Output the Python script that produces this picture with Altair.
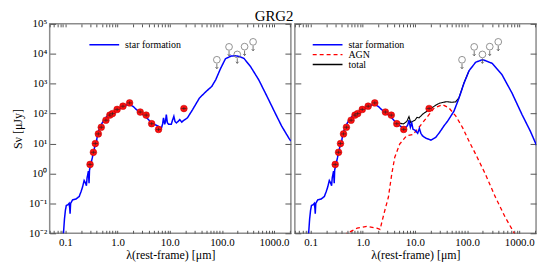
import altair as alt
import pandas as pd

# ---------------- data ----------------
# photometry (rest-frame wavelength [um], flux [uJy])
pt_lam = [0.297, 0.344, 0.375, 0.428, 0.487, 0.598, 0.711, 0.80, 0.98, 1.27, 1.70, 2.72, 3.53, 4.50, 6.1, 18.7]
pt_S = [2.0, 5.1, 10, 21, 35, 60, 89, 100, 138, 177, 228, 113, 89, 46, 29.6, 148]

# upper limits
ul_lam = [80, 137, 197, 272, 396]
ul_S = [6300, 17000, 9500, 17300, 25000]

# star formation model, left panel
sf1_lam = [0.0917, 0.096, 0.100, 0.104, 0.112, 0.118, 0.121, 0.123, 0.126, 0.137, 0.16, 0.184, 0.20, 0.213,
           0.229, 0.24, 0.253, 0.26, 0.276, 0.284, 0.29, 0.306, 0.33, 0.343, 0.36, 0.38, 0.39, 0.40, 0.42,
           0.47, 0.54, 0.63, 0.79, 0.98, 1.22, 1.62, 1.97, 2.54, 3.37, 4.5, 6.0, 6.9, 7.3, 7.6, 8.0, 8.3,
           8.6, 9.0, 9.5, 10.7, 11.3, 12.0, 12.6, 13.4, 14.5, 15.5, 17, 18, 21.8, 27.6, 37, 49.8, 64, 76,
           95, 117, 150, 180, 210, 265, 355, 508, 730, 1050, 1400, 1950, 2100]
sf1_S = [0.0095, 0.03, 0.058, 0.085, 0.09, 0.10, 0.07, 0.045, 0.10, 0.13, 0.14, 0.17, 0.25, 0.35,
         0.58, 0.5, 0.39, 0.7, 1.2, 0.47, 1.3, 2.0, 3.5, 5.0, 7, 10.7, 8, 14, 23,
         38, 59, 81, 93, 126, 165, 209, 176, 116, 82, 49, 38, 32, 45, 72, 44, 55,
         93, 50, 44, 44, 60, 81, 55, 49, 55, 63, 52, 57, 72, 138, 330, 550, 810, 1350,
         3300, 6800, 8400, 8600, 8200, 7000, 3700, 1350, 380, 104, 38, 14.5, 12]

# star formation model, right panel
sf2_lam = [0.0917, 0.096, 0.100, 0.104, 0.112, 0.118, 0.121, 0.123, 0.126, 0.137, 0.16, 0.184, 0.20, 0.213,
           0.229, 0.24, 0.253, 0.26, 0.276, 0.284, 0.29, 0.306, 0.33, 0.343, 0.36, 0.38, 0.39, 0.40, 0.42,
           0.47, 0.54, 0.63, 0.79, 0.98, 1.22, 1.62, 1.97, 2.54, 3.37, 4.5, 5.9, 6.9, 7.3, 7.7, 8.2, 8.7,
           9.2, 10.0, 11.3, 12.2, 13.0, 14.0, 16.4, 20.3, 25, 29.4, 36.5, 42.4, 56, 70, 87.5, 109, 146,
           190, 209, 302, 467, 725, 1130, 1630, 2170]
sf2_S = [0.0095, 0.03, 0.058, 0.085, 0.09, 0.10, 0.07, 0.045, 0.10, 0.13, 0.14, 0.17, 0.25, 0.35,
         0.58, 0.5, 0.39, 0.7, 1.2, 0.47, 1.3, 2.0, 3.5, 5.0, 7, 10.7, 8, 14, 23,
         38, 59, 81, 93, 126, 165, 209, 176, 116, 82, 47, 33, 36, 42, 60, 35, 48,
         30, 28, 22, 32, 22, 18, 15, 13, 16, 23, 40, 56, 120, 330, 1050, 2700, 5200,
         6200, 6200, 4800, 2000, 490, 93, 26, 8.3]

# AGN model (right panel)
agn_lam = [0.45, 0.50, 0.78, 1.2, 1.86, 2.15, 2.55, 3.1, 3.6, 4.1, 5.1, 6.9, 9.2, 12, 17.7, 23.5, 33.8,
           45, 61, 82, 109, 146, 224, 350, 535, 780, 900]
agn_S = [0.008, 0.010, 0.0148, 0.017, 0.0148, 0.0135, 0.045, 0.16, 0.95, 3.4, 9.5, 18, 20, 35, 82, 155, 200,
         155, 82, 34, 12, 4.4, 0.95, 0.16, 0.035, 0.011, 0.006]

# total model (right panel)
tot_lam = [4.5, 5.1, 6.0, 7.0, 7.7, 8.3, 9.0, 10.0, 11.0, 12, 14, 19, 25, 30, 40, 50, 60, 70, 87.5, 109]
tot_S = [48, 48, 45, 55, 80, 50, 55, 60, 75, 72, 95, 138, 190, 225, 250, 240, 245, 340, 1080, 2710]

x_decades = [0.1, 1, 10, 100, 1000]
y_decades = [0.01, 0.1, 1, 10, 100, 1000, 10000, 100000]

# ---------------- styling ----------------
FONT = "Liberation Serif"
FRAME = "#8c8c8c"
TICK = "#555555"
X_DOMAIN = [0.05, 2100]
Y_DOMAIN = [0.01, 100000]

minor = sorted(set(round(k * 10 ** e, 6) for e in range(-2, 4) for k in range(1, 10)
                   if X_DOMAIN[0] <= k * 10 ** e <= X_DOMAIN[1]))

xscale = alt.Scale(type="log", domain=X_DOMAIN, nice=False)
yscale = alt.Scale(type="log", domain=Y_DOMAIN, nice=False)

x_label_expr = "indexof(%s, datum.value) >= 0 ? format(datum.value, '.1f') : ''" % str(x_decades)
e_expr = "abs(round(log(datum.value)/LN10))"
y_label_expr = ("'10' + (datum.value < 1 ? '\u207b' : '') + substring('\u2070\u00b9\u00b2\u00b3\u2074\u2075\u2076\u2077\u2078\u2079', "
                + e_expr + ", " + e_expr + " + 1)")

common = dict(domain=False, grid=False, tickColor=TICK, labelFont=FONT, titleFont=FONT,
              labelFontSize=11, titleFontSize=12, titleFontWeight="normal",
              labelColor="#000000", titleColor="#000000")

x_bottom = alt.Axis(values=minor, labelExpr=x_label_expr, tickSize=3, offset=-3,
                    labelPadding=3, labelOverlap=False, labelFlush=False,
                    title="λ(rest-frame) [μm]", titlePadding=2, **common)
x_top = alt.Axis(orient="top", values=minor, labels=False, tickSize=3, offset=-3, title=None, **common)
y_left_lab = alt.Axis(values=y_decades, labelExpr=y_label_expr, tickSize=6, offset=-6,
                      labelPadding=3, labelOverlap=False, title="Sν [μJy]", titlePadding=4, **common)
y_left_nolab = alt.Axis(values=y_decades, labels=False, tickSize=6, offset=-6, title=None, **common)
y_right = alt.Axis(orient="right", values=y_decades, labels=False, tickSize=6, offset=-6, title=None, **common)

pts = pd.DataFrame({"lam": pt_lam, "S": pt_S})
uls = pd.DataFrame({"lam": ul_lam, "S": ul_S})


def series_df(lam, S, name):
    return pd.DataFrame({"lam": lam, "S": S, "series": name})


def panel(line_dfs, widths, domain, colors, dashes, yaxis_left, legend_x):
    legend = alt.Legend(orient="none", legendX=legend_x, legendY=16, title=None,
                        symbolType="M-3.75,0L3.75,0", symbolSize=64, symbolStrokeWidth=1.5,
                        labelFont=FONT, labelFontSize=10, labelOffset=16, rowPadding=-1, padding=0,
                        labelColor="#000000")
    cscale = alt.Scale(domain=domain, range=colors)
    dscale = alt.Scale(domain=domain, range=dashes)
    layers = []
    for i, (df, w) in enumerate(zip(line_dfs, widths)):
        first = i == 0
        layers.append(
            alt.Chart(df).mark_line(clip=True, strokeWidth=w).encode(
                x=alt.X("lam:Q", scale=xscale, axis=x_bottom if first else None),
                y=alt.Y("S:Q", scale=yscale, axis=yaxis_left if first else None),
                color=alt.Color("series:N", scale=cscale, legend=legend),
                strokeDash=alt.StrokeDash("series:N", scale=dscale, legend=legend),
            )
        )
    dots = alt.Chart(pts).mark_circle(size=46, color="#ff1010", stroke="#c00000", strokeWidth=0.5,
                                      opacity=1).encode(
        x=alt.X("lam:Q", scale=xscale, axis=None), y=alt.Y("S:Q", scale=yscale, axis=None))
    bars = alt.Chart(pts).mark_point(shape="M-0.75,0L0.75,0M0,-0.5L0,0.5", size=46, filled=False,
                                     stroke="#222222", strokeWidth=0.6, opacity=1).encode(
        x=alt.X("lam:Q", scale=xscale, axis=None), y=alt.Y("S:Q", scale=yscale, axis=None))
    circ = alt.Chart(uls).mark_point(shape="circle", size=46, filled=False, stroke="#777777",
                                     strokeWidth=0.8, opacity=1).encode(
        x=alt.X("lam:Q", scale=xscale, axis=x_top), y=alt.Y("S:Q", scale=yscale, axis=y_right))
    arrow = alt.Chart(uls).mark_point(shape="M0,-1L0,1M-0.55,0.35L0,1L0.55,0.35", size=25, filled=False,
                                      stroke="#555555", strokeWidth=0.8, opacity=1, yOffset=6.5).encode(
        x=alt.X("lam:Q", scale=xscale, axis=None), y=alt.Y("S:Q", scale=yscale, axis=None))
    return alt.layer(*layers, dots, bars, circ, arrow).resolve_axis(x="independent", y="independent").properties(
        width=243, height=211)


left = panel([series_df(sf1_lam, sf1_S, "star formation")], [1.5],
             ["star formation"], ["#0000ff"], [[1, 0]], y_left_lab, 50)
right = panel([series_df(tot_lam, tot_S, "total"), series_df(agn_lam, agn_S, "AGN"),
               series_df(sf2_lam, sf2_S, "star formation")], [1.1, 1.3, 1.5],
              ["star formation", "AGN", "total"], ["#0000ff", "#ff0000", "#000000"],
              [[1, 0], [4, 3], [1, 0]], y_left_nolab, 28)

chart = alt.hconcat(left, right, spacing=0).resolve_scale(
    color="independent", strokeDash="independent"
).resolve_legend(color="independent", strokeDash="independent").properties(
    title=alt.TitleParams("GRG2", font=FONT, fontSize=15, fontWeight="normal", anchor="middle",
                          frame="bounds", offset=-7, color="#000000"),
    padding={"left": 2, "top": 0, "right": 5, "bottom": 5},
).configure_view(stroke=FRAME, strokeWidth=1.5)

chart.save("out.html", embed_options={"renderer": "svg", "actions": False})
